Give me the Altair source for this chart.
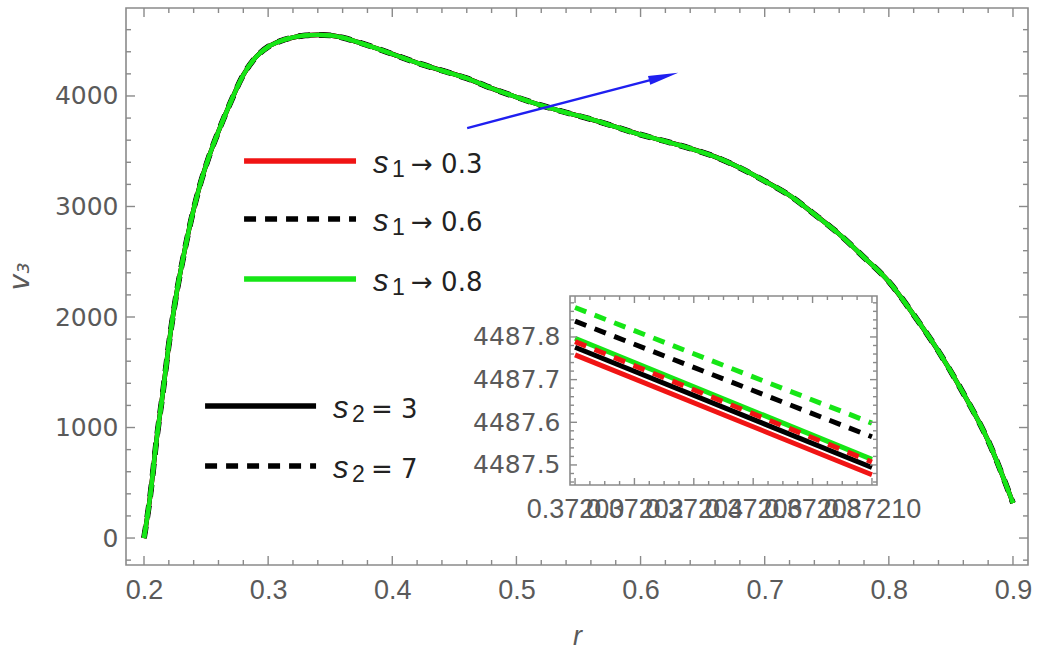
import altair as alt
import pandas as pd

# ---------------- data ----------------
r_main = [0.200, 0.205, 0.210, 0.215, 0.220, 0.226, 0.232, 0.238, 0.245, 0.252,
          0.260, 0.270, 0.280, 0.290, 0.300, 0.310, 0.320, 0.330, 0.340, 0.350,
          0.360, 0.372, 0.385, 0.400, 0.420, 0.440, 0.460, 0.480, 0.500, 0.520,
          0.540, 0.560, 0.580, 0.600, 0.620, 0.640, 0.660, 0.680, 0.700, 0.720,
          0.740, 0.760, 0.780, 0.800, 0.820, 0.840, 0.860, 0.880, 0.900]
v_main = [0, 380, 880, 1300, 1750, 2200, 2560, 2880, 3190, 3440,
          3680, 3950, 4190, 4350, 4445, 4498, 4530, 4548, 4553, 4548,
          4528, 4488, 4440, 4380, 4300, 4230, 4160, 4070, 3990, 3915,
          3850, 3790, 3720, 3650, 3590, 3525, 3450, 3350, 3230, 3100,
          2930, 2750, 2540, 2320, 2020, 1690, 1310, 880, 317]

# inset (zoom near r = 0.3720 ... 0.3721)
r_inset = [0.37200, 0.37210]
inset_red_s3 = [4487.758, 4487.477]
inset_black_s3 = [4487.776, 4487.494]
inset_green_s3 = [4487.797, 4487.513]
inset_red_s7 = [4487.789, 4487.507]
inset_black_s7 = [4487.837, 4487.566]
inset_green_s7 = [4487.869, 4487.598]

x_major = [0.2, 0.3, 0.4, 0.5, 0.6, 0.7, 0.8, 0.9]
y_major = [0, 1000, 2000, 3000, 4000]
ix_major = [0.37200, 0.37202, 0.37204, 0.37206, 0.37208, 0.37210]
iy_major = [4487.5, 4487.6, 4487.7, 4487.8]

legend_s1 = ["→ 0.3", "→ 0.6", "→ 0.8"]
legend_s2 = ["= 3", "= 7"]

# annotation anchors (data units)
legend_s1_x = [0.2806, 0.3708, 0.3845]   # line start, line end, text start
legend_s1_y = [3412, 2887, 2344]
legend_s2_x = [0.2492, 0.3386, 0.3523]
legend_s2_y = [1195, 652]
arrow_r = [0.4603, 0.6186]
arrow_v = [3710, 4176]

# ---------------- styling ----------------
RED, BLACK, GREEN, BLUE = "#f01414", "#000000", "#16e616", "#1f1ff0"
FRAME = "#8a8a8a"
LABEL = "#5a5a5a"
DASH = [12, 9]

W, H = 902, 557
x_dom = [0.1855, 0.9121]
y_dom = [-244, 4796]
IX0, IX1 = 444, 751      # inset horizontal range (px inside plot)
IY0, IY1 = 477, 288      # inset vertical range (bottom, top)
ix_dom = [0.3719983, 0.3721017]
iy_dom = [4487.453, 4487.896]


def xsc():
    return alt.Scale(domain=x_dom, nice=False, zero=False)


def ysc():
    return alt.Scale(domain=y_dom, nice=False, zero=False)


def ixsc():
    return alt.Scale(domain=ix_dom, range=[IX0, IX1], nice=False, zero=False)


def iysc():
    return alt.Scale(domain=iy_dom, range=[IY0, IY1], nice=False, zero=False)


main_df = pd.DataFrame({"r": r_main, "v": v_main})

x_axis = alt.Axis(orient="bottom", values=x_major, format=".1f", labelFont="Liberation Sans",
                  labelFontSize=27, labelColor=LABEL, labelPadding=12,
                  ticks=False, domain=False, grid=False, labelFlush=False,
                  labelOverlap=False, title="r", titleFont="Liberation Sans",
                  titleFontSize=27, titleFontStyle="italic", titleFontWeight="normal",
                  titleColor=LABEL, titleX=451, titleY=79, titleBaseline="alphabetic",
                  titleAlign="center")
y_axis = alt.Axis(orient="left", values=y_major, format="d", labelFont="DejaVu Sans",
                  labelFontSize=25, labelColor=LABEL, labelPadding=8,
                  ticks=False, domain=False, grid=False, labelFlush=False,
                  labelOverlap=False, title="v₃", titleFont="DejaVu Sans",
                  titleFontSize=28, titleFontStyle="italic", titleFontWeight="normal",
                  titleColor=LABEL, titleX=-106, titleY=268, titleAngle=270,
                  titleBaseline="middle", titleAlign="center")

layers = []
# main curves (all six overlap at this scale)
main_styles = [
    (RED, False, 4.6), (BLACK, False, 4.6), (RED, True, 4.6),
    (BLACK, True, 5.8), (GREEN, True, 4.4), (GREEN, False, 4.4),
]
for i, (col, dashed, sw) in enumerate(main_styles):
    kw = dict(color=col, strokeWidth=sw, interpolate="monotone", clip=True)
    if dashed:
        kw["strokeDash"] = DASH
    layers.append(
        alt.Chart(main_df).mark_line(**kw).encode(
            x=alt.X("r:Q", scale=xsc(), axis=x_axis if i == 0 else None),
            y=alt.Y("v:Q", scale=ysc(), axis=y_axis if i == 0 else None),
        )
    )

# frame ticks (inward) of the main plot
x_minor = [round(0.2 + 0.02 * i, 2) for i in range(36) if i % 5 != 0]
y_minor = [v for v in range(-200, 4601, 200) if v % 1000 != 0]


def xticks(vals, length, top, scale, y0, y1):
    d = pd.DataFrame({"t": vals})
    yb = y1 if top else y0
    y2 = yb + length if top else yb - length
    return alt.Chart(d).mark_rule(color=FRAME, strokeWidth=1.4).encode(
        x=alt.X("t:Q", scale=scale, axis=None),
        y=alt.value(yb), y2=alt.value(y2))


def yticks(vals, length, right, scale, x0, x1):
    d = pd.DataFrame({"t": vals})
    xb = x1 if right else x0
    x2 = xb - length if right else xb + length
    return alt.Chart(d).mark_rule(color=FRAME, strokeWidth=1.4).encode(
        y=alt.Y("t:Q", scale=scale, axis=None),
        x=alt.value(xb), x2=alt.value(x2))


for top in (False, True):
    layers.append(xticks(x_major, 9, top, xsc(), H, 0))
    layers.append(xticks(x_minor, 5, top, xsc(), H, 0))
for right in (False, True):
    layers.append(yticks(y_major, 9, right, ysc(), 0, W))
    layers.append(yticks(y_minor, 5, right, ysc(), 0, W))

# legend drawn inside the plot
leg_rows = [
    (legend_s1_x, legend_s1_y[0], RED, False, "1", legend_s1[0]),
    (legend_s1_x, legend_s1_y[1], BLACK, True, "1", legend_s1[1]),
    (legend_s1_x, legend_s1_y[2], GREEN, False, "1", legend_s1[2]),
    (legend_s2_x, legend_s2_y[0], BLACK, False, "2", legend_s2[0]),
    (legend_s2_x, legend_s2_y[1], BLACK, True, "2", legend_s2[1]),
]
for xs_, yv, col, dashed, sub, rest in leg_rows:
    d = pd.DataFrame({"x0": [xs_[0]], "x1": [xs_[1]], "xt": [xs_[2]], "y": [yv],
                      "s": ["s"], "sub": [sub], "rest": [rest]})
    kw = dict(color=col, strokeWidth=5.5)
    if dashed:
        kw["strokeDash"] = DASH
    layers.append(alt.Chart(d).mark_rule(**kw).encode(
        x=alt.X("x0:Q", scale=xsc(), axis=None), x2="x1:Q",
        y=alt.Y("y:Q", scale=ysc(), axis=None)))
    base = alt.Chart(d).encode(x=alt.X("xt:Q", scale=xsc(), axis=None),
                               y=alt.Y("y:Q", scale=ysc(), axis=None))
    layers.append(base.mark_text(font="Liberation Sans", fontSize=31, fontStyle="italic",
                                 color="#222222", align="left", baseline="alphabetic",
                                 dy=12).encode(text="s:N"))
    layers.append(base.mark_text(font="Liberation Sans", fontSize=23, color="#222222",
                                 align="left", baseline="alphabetic", dx=19,
                                 dy=16).encode(text="sub:N"))
    layers.append(base.mark_text(font="DejaVu Sans", fontSize=26, color="#222222",
                                 align="left", baseline="alphabetic", dx=38,
                                 dy=12).encode(text="rest:N"))

# blue arrow
arrow_df = pd.DataFrame({"x0": [arrow_r[0]], "x1": [arrow_r[1]],
                         "y0": [arrow_v[0]], "y1": [arrow_v[1]]})
layers.append(alt.Chart(arrow_df).mark_rule(color=BLUE, strokeWidth=2.3).encode(
    x=alt.X("x0:Q", scale=xsc(), axis=None), x2="x1:Q",
    y=alt.Y("y0:Q", scale=ysc(), axis=None), y2="y1:Q"))
layers.append(alt.Chart(arrow_df).mark_point(
    shape="M-1,-0.3L1,0L-1,0.3Z", size=900, angle=345.3, filled=True,
    color=BLUE, opacity=1, strokeWidth=0).encode(
    x=alt.X("x1:Q", scale=xsc(), axis=None),
    y=alt.Y("y1:Q", scale=ysc(), axis=None)))

# ---------------- inset ----------------
layers.append(alt.Chart(pd.DataFrame({"a": [0]})).mark_rect(
    fill="white", stroke=FRAME, strokeWidth=1.6).encode(
    x=alt.value(IX0), x2=alt.value(IX1), y=alt.value(IY1), y2=alt.value(IY0)))

ix_axis = alt.Axis(orient="bottom", values=ix_major, format=".5f", labelFont="Liberation Sans",
                   labelFontSize=27, labelColor=LABEL, labelPadding=11,
                   ticks=False, domain=False, grid=False, labelFlush=False,
                   labelOverlap=False, labelBound=False, title=None,
                   offset=-(H - IY0), zindex=1)
iy_axis = alt.Axis(orient="left", values=iy_major, format=".1f", labelFont="DejaVu Sans",
                   labelFontSize=25, labelColor=LABEL, labelPadding=10,
                   ticks=False, domain=False, grid=False, labelFlush=False,
                   labelOverlap=False, title=None, offset=-IX0, zindex=1)

inset_series = [
    (inset_red_s3, RED, False), (inset_black_s3, BLACK, False),
    (inset_green_s3, GREEN, False), (inset_red_s7, RED, True),
    (inset_black_s7, BLACK, True), (inset_green_s7, GREEN, True),
]
for i, (vals, col, dashed) in enumerate(inset_series):
    d = pd.DataFrame({"r": r_inset, "v": vals})
    kw = dict(color=col, strokeWidth=5)
    if dashed:
        kw["strokeDash"] = DASH
    layers.append(alt.Chart(d).mark_line(**kw).encode(
        x=alt.X("r:Q", scale=ixsc(), axis=ix_axis if i == 0 else None),
        y=alt.Y("v:Q", scale=iysc(), axis=iy_axis if i == 0 else None)))

ix_minor = [round(0.372 + 0.000005 * i, 6) for i in range(21) if i % 4 != 0]
iy_minor = [4487.46, 4487.48, 4487.52, 4487.54, 4487.56, 4487.58, 4487.62, 4487.64,
            4487.66, 4487.68, 4487.72, 4487.74, 4487.76, 4487.78, 4487.82, 4487.84,
            4487.86, 4487.88]
for top in (False, True):
    layers.append(xticks(ix_major, 7, top, ixsc(), IY0, IY1))
    layers.append(xticks(ix_minor, 4, top, ixsc(), IY0, IY1))
for right in (False, True):
    layers.append(yticks(iy_major, 7, right, iysc(), IX0, IX1))
    layers.append(yticks(iy_minor, 4, right, iysc(), IX0, IX1))

chart = alt.layer(*layers).resolve_scale(
    x="independent", y="independent"
).properties(
    width=W, height=H,
    padding={"left": 126, "top": 8, "right": 9, "bottom": 91},
    autosize=alt.AutoSizeParams(type="none"),
    background="white",
).configure_view(stroke=FRAME, strokeWidth=1.6)

chart.save("out.html", embed_options={"renderer": "svg", "actions": False})
